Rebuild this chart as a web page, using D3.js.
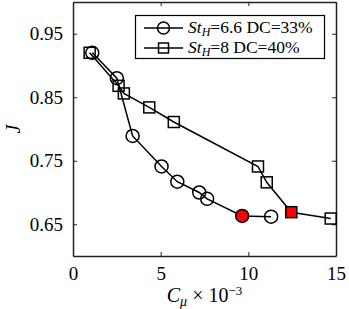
<!DOCTYPE html>
<html>
<head>
<meta charset="utf-8">
<script src="https://cdn.jsdelivr.net/npm/d3@7"></script>
<style>
  body { margin: 0; background: #fff; }
  text { font-family: "Liberation Serif", "DejaVu Serif", serif; fill: #000; }
</style>
</head>
<body>
<div id="chart"></div>
<script>
// data (Cmu in units of 1e-3)
var cmu66 = [1.1, 2.5, 3.4, 5.05, 5.95, 7.2, 7.65, 9.65, 11.3];
var j66   = [0.920, 0.880, 0.789, 0.741, 0.717, 0.700, 0.690, 0.663, 0.662];
var red66 = 7; // index of filled point

var cmu8 = [0.95, 2.6, 2.9, 4.35, 5.75, 10.55, 11.05, 12.45, 14.7];
var j8   = [0.920, 0.868, 0.856, 0.834, 0.811, 0.741, 0.716, 0.669, 0.659];
var red8 = 7;

var xTicks = [0, 5, 10, 15];
var yTicks = [0.65, 0.75, 0.85, 0.95];
var legendLabels = ["6.6 DC=33%", "8 DC=40%"];

var width = 349, height = 309,
    margin = {top: 2, right: 13, bottom: 53, left: 73};

var svg = d3.select("#chart").append("svg")
    .attr("width", width)
    .attr("height", height);

var x = d3.scaleLinear().domain([0, 15]).range([margin.left, width - margin.right]);
var y = d3.scaleLinear().domain([0.6, 1.0]).range([height - margin.bottom, margin.top]);

// axes with inward ticks, mirrored on top/right
var xAxis = svg.append("g")
    .attr("transform", "translate(0," + y(0.6) + ")")
    .call(d3.axisBottom(x).tickValues(xTicks).tickSizeInner(-4).tickSizeOuter(0).tickPadding(9).tickFormat(d3.format("d")));
var yAxis = svg.append("g")
    .attr("transform", "translate(" + x(0) + ",0)")
    .call(d3.axisLeft(y).tickValues(yTicks).tickSizeInner(-4).tickSizeOuter(0).tickPadding(10).tickFormat(d3.format(".2f")));
svg.append("g")
    .attr("transform", "translate(0," + y(1.0) + ")")
    .call(d3.axisTop(x).tickValues(xTicks).tickSizeInner(-4).tickSizeOuter(0).tickFormat(""));
svg.append("g")
    .attr("transform", "translate(" + x(15) + ",0)")
    .call(d3.axisRight(y).tickValues(yTicks).tickSizeInner(-4).tickSizeOuter(0).tickFormat(""));

svg.selectAll(".domain").attr("stroke", "#222").attr("stroke-width", 1.5);
svg.selectAll(".tick line").attr("stroke", "#222").attr("stroke-width", 1);
svg.selectAll(".tick text")
    .style("font-family", "'Liberation Serif', serif")
    .style("font-size", "19px")
    .attr("fill", "#000");
xAxis.selectAll(".tick text").attr("dy", "0.8em");

// axis labels
svg.append("text")
    .attr("transform", "translate(20," + y(0.8) + ") rotate(-90)")
    .attr("text-anchor", "middle")
    .style("font-size", "20px")
    .style("font-style", "italic")
    .text("J");

var xl = svg.append("text")
    .attr("x", x(7.5))
    .attr("y", 302)
    .attr("text-anchor", "middle")
    .style("font-size", "20px");
xl.append("tspan").style("font-style", "italic").text("C");
xl.append("tspan").attr("dy", 4).style("font-size", "14px").style("font-style", "italic").text("μ");
xl.append("tspan").attr("dy", -4).text(" × 10");
xl.append("tspan").attr("dy", -7).style("font-size", "13px").text("−3");

var line = d3.line().x(function(d) { return x(d[0]); }).y(function(d) { return y(d[1]); });

var pts66 = cmu66.map(function(c, i) { return [c, j66[i]]; });
var pts8 = cmu8.map(function(c, i) { return [c, j8[i]]; });

svg.append("path").datum(pts8).attr("d", line)
    .attr("fill", "none").attr("stroke", "#000").attr("stroke-width", 1.5);
svg.append("path").datum(pts66).attr("d", line)
    .attr("fill", "none").attr("stroke", "#000").attr("stroke-width", 1.5);

var sq = 11;
svg.selectAll(".sq").data(pts8).enter().append("rect")
    .attr("x", function(d) { return x(d[0]) - sq / 2; })
    .attr("y", function(d) { return y(d[1]) - sq / 2; })
    .attr("width", sq).attr("height", sq)
    .attr("fill", function(d, i) { return i === red8 ? "#f00" : "none"; })
    .attr("stroke", "#000").attr("stroke-width", 1.5);

svg.selectAll(".ci").data(pts66).enter().append("circle")
    .attr("cx", function(d) { return x(d[0]); })
    .attr("cy", function(d) { return y(d[1]); })
    .attr("r", 6.5)
    .attr("fill", function(d, i) { return i === red66 ? "#f00" : "none"; })
    .attr("stroke", "#000").attr("stroke-width", 1.5);

// legend
var lg = svg.append("g");
lg.append("rect")
    .attr("x", 135.5).attr("y", 15.5).attr("width", 189).attr("height", 43)
    .attr("fill", "#fff").attr("stroke", "#000").attr("stroke-width", 1.2);
legendLabels.forEach(function(lab, i) {
    var ly = 28 + i * 20;
    lg.append("line").attr("x1", 144).attr("x2", 183).attr("y1", ly).attr("y2", ly)
        .attr("stroke", "#000").attr("stroke-width", 1.5);
    if (i === 0) {
        lg.append("circle").attr("cx", 163.5).attr("cy", ly).attr("r", 6)
            .attr("fill", "none").attr("stroke", "#000").attr("stroke-width", 1.5);
    } else {
        lg.append("rect").attr("x", 158.5).attr("y", ly - 5).attr("width", 10).attr("height", 10)
            .attr("fill", "none").attr("stroke", "#000").attr("stroke-width", 1.5);
    }
    var t = lg.append("text").attr("x", 188).attr("y", ly + 5).style("font-size", "17.5px");
    t.append("tspan").style("font-style", "italic").text("St");
    t.append("tspan").attr("dy", 3).style("font-size", "12px").style("font-style", "italic").text("H");
    t.append("tspan").attr("dy", -3).text("=" + lab);
});
</script>
</body>
</html>
